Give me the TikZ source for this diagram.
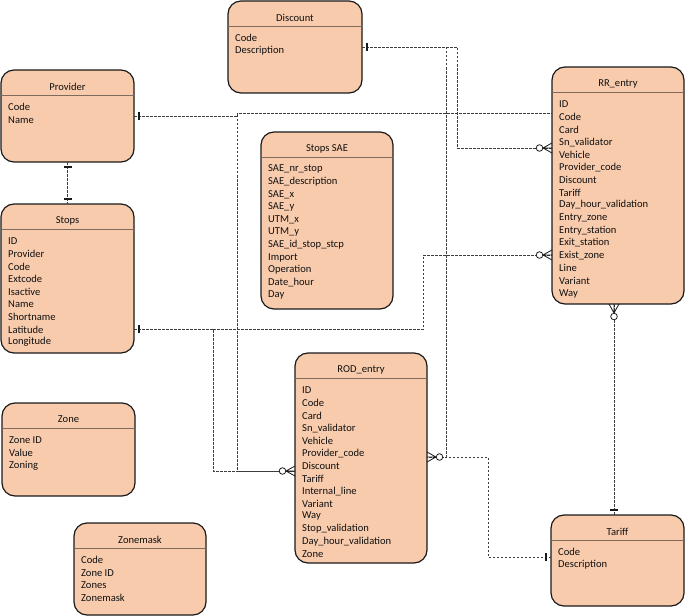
\documentclass[tikz,border=0pt]{standalone}
\usepackage{fontspec}
\setmainfont{Carlito}
\definecolor{peach}{HTML}{F8CBAD}
\definecolor{boxline}{HTML}{1A1A1A}
\definecolor{hdrline}{HTML}{7E6B5E}
\definecolor{txt}{HTML}{101010}
\definecolor{lnk}{HTML}{3C3C3C}
\tikzset{
  entity/.style={draw=boxline, fill=peach, rounded corners=13bp, line width=1.2bp, inner sep=0pt, outer sep=0pt},
  hdr/.style={draw=hdrline, line width=0.9bp},
  ttl/.style={font=\fontsize{10.6}{12.6}\selectfont, text=txt, inner sep=0pt},
  fld/.style={font=\fontsize{10.6}{12.6}\selectfont, text=txt, inner sep=0pt, anchor=west},
  conn/.style={draw=lnk, line width=0.8bp, dash pattern=on 2.5bp off 1.5bp},
  mk/.style={draw=boxline, line width=0.8bp},
  zmany/.pic={
    \draw[mk] (0,5) -- (9,0) -- (0,-5) (0,0) -- (9,0);
    \draw[mk, fill=white] (12.5,0) circle (3.3bp);
  },
  one/.pic={
    \draw[mk, line width=1.4bp] (5,-4) -- (5,4);
  }
}
\newcommand\erbox[7]{%
  \node[entity, minimum width=#4bp, minimum height=#5bp, anchor=north west] (#1) at (#2,#3) {};
  \draw[hdr] ([yshift=-25bp]#1.north west) -- ([yshift=-25bp]#1.north east);
  \node[ttl] (#1-t) at ([yshift=-16.5bp]#1.north) {#6};
  \foreach \f [count=\i] in {#7}
    \node[fld] (#1-f\i) at ([xshift=7bp,yshift={-(37.2+12.62*(\i-1))*1bp}]#1.north west) {\f};
}
\begin{document}
\begin{tikzpicture}[x=1bp, y=-1bp]
\useasboundingbox (0,0) rectangle (685,616);

% entities
\erbox{disc}{228}{1}{134}{92}{Discount}{Code,Description}
\erbox{prov}{1}{70}{133}{92}{Provider}{Code,Name}
\erbox{stops}{1}{204}{133}{149}{Stops}{ID,Provider,Code,Extcode,Isactive,Name,Shortname,Latitude,Longitude}
\erbox{sae}{261}{132}{132}{177}{Stops SAE}{SAE\_nr\_stop,SAE\_description,SAE\_x,SAE\_y,UTM\_x,UTM\_y,SAE\_id\_stop\_stcp,Import,Operation,Date\_hour,Day}
\erbox{rr}{552}{67}{132}{237}{RR\_entry}{ID,Code,Card,Sn\_validator,Vehicle,Provider\_code,Discount,Tariff,Day\_hour\_validation,Entry\_zone,Entry\_station,Exit\_station,Exist\_zone,Line,Variant,Way}
\erbox{rod}{295}{353}{132}{210}{ROD\_entry}{ID,Code,Card,Sn\_validator,Vehicle,Provider\_code,Discount,Tariff,Internal\_line,Variant,Way,Stop\_validation,Day\_hour\_validation,Zone}
\erbox{zone}{2}{403}{133}{93}{Zone}{Zone ID,Value,Zoning}
\erbox{zmask}{74}{523}{132}{92}{Zonemask}{Code,Zone ID,Zones,Zonemask}
\erbox{tar}{551}{515}{133}{91}{Tariff}{Code,Description}

% connector end points and bends
\coordinate (pR)  at (prov.east |- 0,116);
\coordinate (j1)  at (237,115);
\coordinate (rrP) at (rr.west |- 0,113);
\coordinate (rodA) at (rod.west |- 0,471);
\coordinate (sR)  at (stops.east |- 0,329);
\coordinate (j2)  at (213,329);
\coordinate (j3)  at (423,329);
\coordinate (rrS) at (rr.west |- 0,255);
\coordinate (dR)  at (disc.east |- 0,47);
\coordinate (j4)  at (457,47);
\coordinate (j5)  at (446,47);
\coordinate (rrD) at (rr.west |- 0,148);
\coordinate (rodB) at (rod.east |- 0,457);
\coordinate (tW)  at (tar.west |- 0,557);
\coordinate (j6)  at (488,557);
\coordinate (rrB) at (rr.south -| 614,0);
\coordinate (tN)  at (tar.north -| 614,0);

% connectors
\draw[conn] (prov.south) -- (stops.north);
\draw[conn] (pR) -- (pR -| j1) |- (j1) -- (rrP -| j1) -- (rrP);
\draw[conn] (j1) |- (rodA);
\draw[conn] (sR) -- (j2) |- (rodA);
\draw[conn] (j2) -- (j3) |- (rrS);
\draw[conn] (dR) -- (j4) |- (rrD);
\draw[conn] (dR) -- (j5) |- (rodB);
\draw[conn] (tW) -- (j6) |- (rodB);
\draw[conn] (rrB) -- (tN);

% markers
\pic[rotate=-90] at (prov.south) {one};
\pic[rotate=90] at (stops.north) {one};
\pic at (pR) {one};
\pic at (sR) {one};
\pic at (dR) {one};
\pic[rotate=180] at (tW) {one};
\pic[rotate=90] at (tN) {one};
\pic[rotate=180] at (rrD) {zmany};
\pic[rotate=180] at (rrS) {zmany};
\pic[rotate=180] at (rodA) {zmany};
\pic at (rodB) {zmany};
\pic[rotate=-90] at (rrB) {zmany};
\end{tikzpicture}
\end{document}
